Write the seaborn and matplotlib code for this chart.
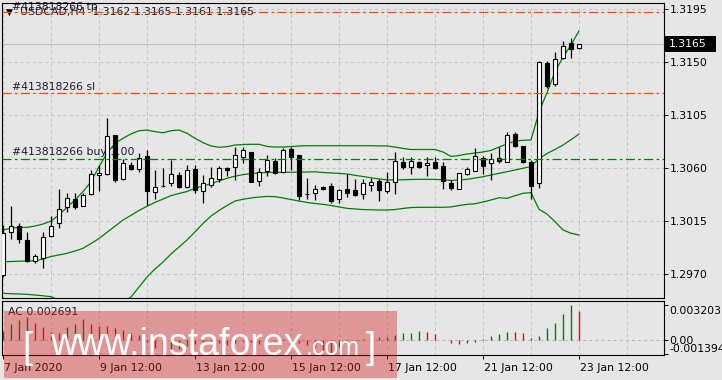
import numpy as np
import pandas as pd
import matplotlib
matplotlib.use("Agg")
import matplotlib.pyplot as plt
import matplotlib.transforms as mtrans
from matplotlib.patches import Rectangle
import seaborn as sns

# ---------------- data ----------------
opens = [1.29694, 1.30056, 1.30112, 1.29991, 1.29815, 1.29836, 1.30027, 1.30132, 1.30268, 1.30336,
         1.30282, 1.30381, 1.30539, 1.30548, 1.30881, 1.30508, 1.30624, 1.30590, 1.30703, 1.30395,
         1.30449, 1.30472, 1.30542, 1.30440, 1.30590, 1.30409, 1.30455, 1.30505, 1.30604, 1.30607,
         1.30697, 1.30737, 1.30494, 1.30578, 1.30661, 1.30565, 1.30762, 1.30712, 1.30378, 1.30387,
         1.30443, 1.30449, 1.30336, 1.30423, 1.30415, 1.30378, 1.30455, 1.30491, 1.30409, 1.30485,
         1.30652, 1.30607, 1.30652, 1.30624, 1.30652, 1.30618, 1.30477, 1.30426, 1.30548, 1.30578,
         1.30684, 1.30641, 1.30684, 1.30655, 1.30887, 1.30788, 1.30655, 1.30472, 1.31489, 1.31316,
         1.31531, 1.31659, 1.31620]
highs = [1.30118, 1.30279, 1.30132, 1.30056, 1.29872, 1.30056, 1.30194, 1.30423, 1.30387, 1.30387,
         1.30387, 1.30584, 1.30627, 1.31023, 1.30885, 1.30675, 1.30650, 1.30731, 1.30754, 1.30584,
         1.30601, 1.30669, 1.30570, 1.30627, 1.30627, 1.30539, 1.30612, 1.30618, 1.30612, 1.30777,
         1.30777, 1.30740, 1.30599, 1.30712, 1.30684, 1.30773, 1.30777, 1.30715, 1.30516, 1.30457,
         1.30449, 1.30472, 1.30423, 1.30550, 1.30508, 1.30508, 1.30519, 1.30508, 1.30567, 1.30737,
         1.30697, 1.30697, 1.30661, 1.30697, 1.30697, 1.30652, 1.30500, 1.30560, 1.30607, 1.30768,
         1.30703, 1.30726, 1.30777, 1.30909, 1.30909, 1.30790, 1.30669, 1.31508, 1.31511, 1.31587,
         1.31681, 1.31701, 1.31650]
lows = [1.29677, 1.29997, 1.29968, 1.29807, 1.29798, 1.29751, 1.30020, 1.30090, 1.30231, 1.30254,
        1.30275, 1.30372, 1.30406, 1.30545, 1.30485, 1.30500, 1.30584, 1.30570, 1.30288, 1.30336,
        1.30438, 1.30449, 1.30429, 1.30434, 1.30392, 1.30307, 1.30438, 1.30485, 1.30536, 1.30500,
        1.30646, 1.30480, 1.30449, 1.30533, 1.30550, 1.30556, 1.30584, 1.30330, 1.30338, 1.30330,
        1.30415, 1.30307, 1.30307, 1.30358, 1.30366, 1.30336, 1.30409, 1.30324, 1.30392, 1.30381,
        1.30590, 1.30550, 1.30601, 1.30536, 1.30595, 1.30426, 1.30412, 1.30420, 1.30539, 1.30575,
        1.30550, 1.30500, 1.30641, 1.30650, 1.30782, 1.30646, 1.30338, 1.30434, 1.31277, 1.31297,
        1.31525, 1.31531, 1.31610]
closes = [1.30050, 1.30112, 1.29997, 1.29815, 1.29855, 1.30019, 1.30112, 1.30256, 1.30344, 1.30273,
          1.30370, 1.30548, 1.30561, 1.30873, 1.30500, 1.30641, 1.30593, 1.30684, 1.30409, 1.30443,
          1.30450, 1.30548, 1.30443, 1.30582, 1.30415, 1.30472, 1.30514, 1.30599, 1.30584, 1.30712,
          1.30754, 1.30483, 1.30567, 1.30669, 1.30556, 1.30754, 1.30697, 1.30364, 1.30380, 1.30423,
          1.30421, 1.30324, 1.30415, 1.30392, 1.30368, 1.30472, 1.30483, 1.30415, 1.30483, 1.30661,
          1.30610, 1.30661, 1.30612, 1.30644, 1.30604, 1.30491, 1.30432, 1.30556, 1.30590, 1.30700,
          1.30621, 1.30675, 1.30663, 1.30881, 1.30790, 1.30655, 1.30451, 1.31497, 1.31299, 1.31523,
          1.31638, 1.31608, 1.31650]
bb_upper = [1.30076, 1.30090, 1.30098, 1.30098, 1.30109, 1.30126, 1.30152, 1.30203, 1.30268, 1.30330,
            1.30400, 1.30485, 1.30612, 1.30726, 1.30811, 1.30853, 1.30890, 1.30917, 1.30923, 1.30909,
            1.30900, 1.30917, 1.30923, 1.30895, 1.30853, 1.30816, 1.30788, 1.30777, 1.30782, 1.30796,
            1.30800, 1.30802, 1.30802, 1.30784, 1.30779, 1.30779, 1.30782, 1.30788, 1.30790, 1.30790,
            1.30790, 1.30790, 1.30790, 1.30790, 1.30790, 1.30790, 1.30790, 1.30788, 1.30788, 1.30779,
            1.30767, 1.30758, 1.30758, 1.30758, 1.30758, 1.30737, 1.30699, 1.30707, 1.30720, 1.30728,
            1.30737, 1.30750, 1.30779, 1.30805, 1.30830, 1.30836, 1.30839, 1.31076, 1.31240, 1.31418,
            1.31540, 1.31644, 1.31763]
bb_middle = [1.29807, 1.29808, 1.29811, 1.29813, 1.29814, 1.29830, 1.29851, 1.29864, 1.29878, 1.29897,
             1.29920, 1.29961, 1.30003, 1.30056, 1.30108, 1.30160, 1.30200, 1.30241, 1.30277, 1.30310,
             1.30338, 1.30367, 1.30385, 1.30402, 1.30429, 1.30449, 1.30468, 1.30491, 1.30514, 1.30532,
             1.30545, 1.30554, 1.30559, 1.30563, 1.30565, 1.30565, 1.30565, 1.30566, 1.30567, 1.30569,
             1.30563, 1.30559, 1.30556, 1.30550, 1.30539, 1.30529, 1.30518, 1.30508, 1.30500, 1.30500,
             1.30501, 1.30504, 1.30505, 1.30505, 1.30505, 1.30501, 1.30495, 1.30500, 1.30505, 1.30516,
             1.30527, 1.30542, 1.30556, 1.30570, 1.30584, 1.30599, 1.30614, 1.30679, 1.30724, 1.30758,
             1.30796, 1.30841, 1.30889]
bb_lower = [1.29539, 1.29535, 1.29533, 1.29530, 1.29524, 1.29518, 1.29510, 1.29482, 1.29457, 1.29431,
            1.29414, 1.29406, 1.29406, 1.29414, 1.29431, 1.29465, 1.29508, 1.29592, 1.29677, 1.29745,
            1.29804, 1.29872, 1.29931, 1.29991, 1.30059, 1.30131, 1.30194, 1.30241, 1.30283, 1.30321,
            1.30336, 1.30347, 1.30355, 1.30360, 1.30358, 1.30347, 1.30334, 1.30321, 1.30309, 1.30300,
            1.30293, 1.30283, 1.30271, 1.30259, 1.30254, 1.30249, 1.30247, 1.30245, 1.30245, 1.30249,
            1.30258, 1.30266, 1.30268, 1.30268, 1.30268, 1.30268, 1.30271, 1.30283, 1.30293, 1.30298,
            1.30313, 1.30330, 1.30349, 1.30344, 1.30366, 1.30387, 1.30392, 1.30251, 1.30211, 1.30146,
            1.30076, 1.30048, 1.30033]
ac_values = [0.00075, 0.00147, 0.00178, 0.00210, 0.00156, 0.00116, 0.00069, 0.00063, 0.00116, 0.00147,
             0.00188, 0.00147, 0.00131, 0.00125, 0.00106, 0.00091, 0.00063, 0.00038, -0.00020, -0.00080,
             -0.001394, -0.00110, -0.00085, -0.00060, -0.00042, -0.00025, -0.00012, -0.00030, -0.00048, -0.00030,
             -0.00014, -0.00022, -0.00040, -0.00028, -0.00010, 0.00005, -0.00015, -0.00035, -0.00055, -0.00075,
             -0.00095, -0.00115, -0.00070, -0.00035, -0.00010, 0.00008, 0.00016, 0.00024, 0.00027, 0.00045,
             0.00060, 0.00063, 0.00075, 0.00068, 0.00050, -0.00003, -0.00030, -0.00045, -0.00035, -0.00020,
             0.00002, 0.00030, 0.00050, 0.00068, 0.00066, 0.00060, 0.00015, 0.00035, 0.00105, 0.00150,
             0.00235, 0.003203, 0.002691]

price_ticks = [1.3195, 1.3150, 1.3105, 1.3060, 1.3015, 1.2970]
date_labels = ["7 Jan 2020", "9 Jan 12:00", "13 Jan 12:00", "15 Jan 12:00",
               "17 Jan 12:00", "21 Jan 12:00", "23 Jan 12:00"]
date_label_bars = [0, 12, 24, 36, 48, 60, 72]
grid_bars = list(range(0, 84, 6))
tp_level = 1.31921
sl_level = 1.31235
buy_level = 1.30680
bid_price = 1.3165
ac_current = 0.002691
ac_max = 0.003203
ac_min = -0.001394
order_id = "#413818266"
symbol_header = "USDCAD,H4  1.3162 1.3165 1.3161 1.3165"

# ---------------- style ----------------
sns.set_theme(style="white")
plt.rcParams['font.family'] = ['DejaVu Sans']
plt.rcParams['lines.scale_dashes'] = False
BG = '#e6e6e6'
GRID = '#c4c4c4'
TXT = '#1c1c2c'
FS = 7.8
W, H = 722, 380

def fx(px):
    return px / W

def fy(py):
    return 1 - py / H

fig = plt.figure(figsize=(W / 100, H / 100), dpi=100, facecolor=BG)
L, R = 2.3, 664
ax = fig.add_axes([fx(L), fy(298), fx(R) - fx(L), fy(3) - fy(298)])
ax2 = fig.add_axes([fx(L), fy(355), fx(R) - fx(L), fy(301) - fy(355)])

df = pd.DataFrame({'bar': np.arange(len(opens)), 'open': opens, 'high': highs,
                   'low': lows, 'close': closes, 'upper': bb_upper,
                   'middle': bb_middle, 'lower': bb_lower, 'ac': ac_values})

xmin, xmax = -0.09, (R - 3) / 8
for a in (ax, ax2):
    a.set_facecolor(BG)
    a.set_xlim(xmin, xmax)
    for s in a.spines.values():
        s.set_color('black')
        s.set_linewidth(0.8)

# ---------------- main panel ----------------
ax.set_ylim(1.29499, 1.32000)
ax.set_xticks(grid_bars)
ax.set_xticklabels([])
ax.tick_params(axis='x', length=0)
ax.yaxis.tick_right()
ax.set_yticks(price_ticks)
ax.set_yticklabels([f"{v:.4f}" for v in price_ticks], fontsize=FS, color='black')
ax.tick_params(axis='y', which='major', direction='out', length=3, width=0.7,
               color='black', pad=1.0, right=True, left=False)
ax.grid(True, color=GRID, linestyle=(0, (2.2, 2.2)), linewidth=0.75)
ax.set_axisbelow(True)

ax.axhline(bid_price, color='#c0c0c0', lw=0.8, zorder=1)

for col in ('upper', 'middle', 'lower'):
    sns.lineplot(data=df, x='bar', y=col, color='#008000', lw=0.9, ax=ax, zorder=2)
ax.set_xlabel('')
ax.set_ylabel('')

ax.vlines(df['bar'], df['low'], df['high'], color='black', lw=0.9, zorder=3)
up = df['close'] >= df['open']
ax.bar(df['bar'], (df['close'] - df['open']).abs(),
       bottom=np.minimum(df['open'], df['close']), width=0.55,
       color=np.where(up, 'white', 'black'), edgecolor='black', linewidth=0.8, zorder=4)

dd = (0, (6.5, 2.4, 1.9, 2.4))
ax.axhline(tp_level, color='#ff4500', lw=0.9, linestyle=dd, zorder=5)
ax.axhline(sl_level, color='#ff4500', lw=0.9, linestyle=dd, zorder=5)
ax.axhline(buy_level, color='#008000', lw=0.9, linestyle=dd, zorder=5)

# object labels and header
ax.annotate(order_id + " tp", xy=(12, H - 9.5), xycoords='figure pixels',
            fontsize=FS, color=TXT, va='baseline', ha='left', zorder=2)
ax.annotate("\u25bc", xy=(6, H - 12.5), xycoords='figure pixels',
            fontsize=6.5, color='black', va='center', ha='left', zorder=2)
ax.annotate(symbol_header, xy=(20, H - 12.5), xycoords='figure pixels',
            fontsize=FS, color=TXT, va='center', ha='left', zorder=2)
ax.annotate(order_id + " sl", xy=(12, H - 86.7), xycoords='figure pixels',
            fontsize=FS, color=TXT, va='center', ha='left', zorder=2)
ax.annotate(order_id + " buy 1.00", xy=(12, H - 151.7), xycoords='figure pixels',
            fontsize=FS, color=TXT, va='center', ha='left', zorder=2)

# ---------------- AC panel ----------------
ax2.set_ylim(-0.001451, 0.003605)
ac_colors = ['#008000'] + ['#008000' if ac_values[i] > ac_values[i - 1] else '#ff0000'
                           for i in range(1, len(ac_values))]
ax2.vlines(df['bar'], 0, df['ac'], colors=ac_colors, lw=1.0, zorder=3)
ax2.axhline(0, color='#b8b8b8', lw=0.75, linestyle=(0, (2.2, 2.2)), zorder=1)
ax2.set_xticks(date_label_bars)
ax2.set_xticks([b for b in grid_bars if b not in date_label_bars], minor=True)
ax2.set_xticklabels(date_labels, fontsize=FS, color='black')
ax2.tick_params(axis='x', which='major', direction='out', length=3, width=0.7,
                color='black', pad=2.5, bottom=True)
ax2.tick_params(axis='x', which='minor', length=0)
ax2.grid(True, axis='x', which='both', color=GRID, linestyle=(0, (2.2, 2.2)), linewidth=0.75)
offset = mtrans.ScaledTranslation(0.01, 0, fig.dpi_scale_trans)
for lab in ax2.get_xticklabels():
    lab.set_horizontalalignment('left')
    lab.set_transform(lab.get_transform() + offset)

ax2.yaxis.tick_right()
ax2.set_yticks([ac_max, 0, ac_min])
ax2.set_yticklabels([f"{ac_max:.6f}", "0.00", f"{ac_min:.6f}"], fontsize=FS, color='black')
ax2.tick_params(axis='y', direction='out', length=3, width=0.7, color='black', pad=1.0,
                right=True, left=False)
ylabs = ax2.get_yticklabels()
ylabs[0].set_transform(ylabs[0].get_transform() + mtrans.ScaledTranslation(0, -0.05, fig.dpi_scale_trans))
ylabs[2].set_transform(ylabs[2].get_transform() + mtrans.ScaledTranslation(0, 0.06, fig.dpi_scale_trans))
ax2.set_axisbelow(True)
ax2.annotate(f"AC {ac_current:.6f}", xy=(8, H - 312), xycoords='figure pixels',
             fontsize=FS, color=TXT, va='center', ha='left', zorder=2)

# ---------------- current price box ----------------
fig.canvas.draw()
yd = ax.transData.transform((0, bid_price))[1]
fig.add_artist(Rectangle((R / W, (yd - 8) / H), 52 / W, 16 / H, transform=fig.transFigure,
                         facecolor='black', edgecolor='none', zorder=6))
fig.text(669 / W, yd / H, f"{bid_price:.4f}", fontsize=FS, color='white',
         va='center', ha='left', zorder=7)

# ---------------- watermark ----------------
fig.add_artist(Rectangle((fx(4), fy(378)), (397 - 4) / W, (378 - 311) / H,
                         transform=fig.transFigure, facecolor=(0.83, 0.12, 0.12, 0.40),
                         edgecolor='none', zorder=10))
wm = dict(color='white', family=['Liberation Sans', 'DejaVu Sans'], weight='normal',
          va='baseline', ha='left', zorder=11)
fig.text(fx(22), fy(358), "[", fontsize=26, **wm)
fig.text(fx(50), fy(355), "www.instaforex", fontsize=27, **wm)
fig.text(fx(306), fy(355), ".com", fontsize=18, **wm)
fig.text(fx(366), fy(358), "]", fontsize=26, **wm)

fig.savefig("out.png", dpi=100, facecolor=BG)
